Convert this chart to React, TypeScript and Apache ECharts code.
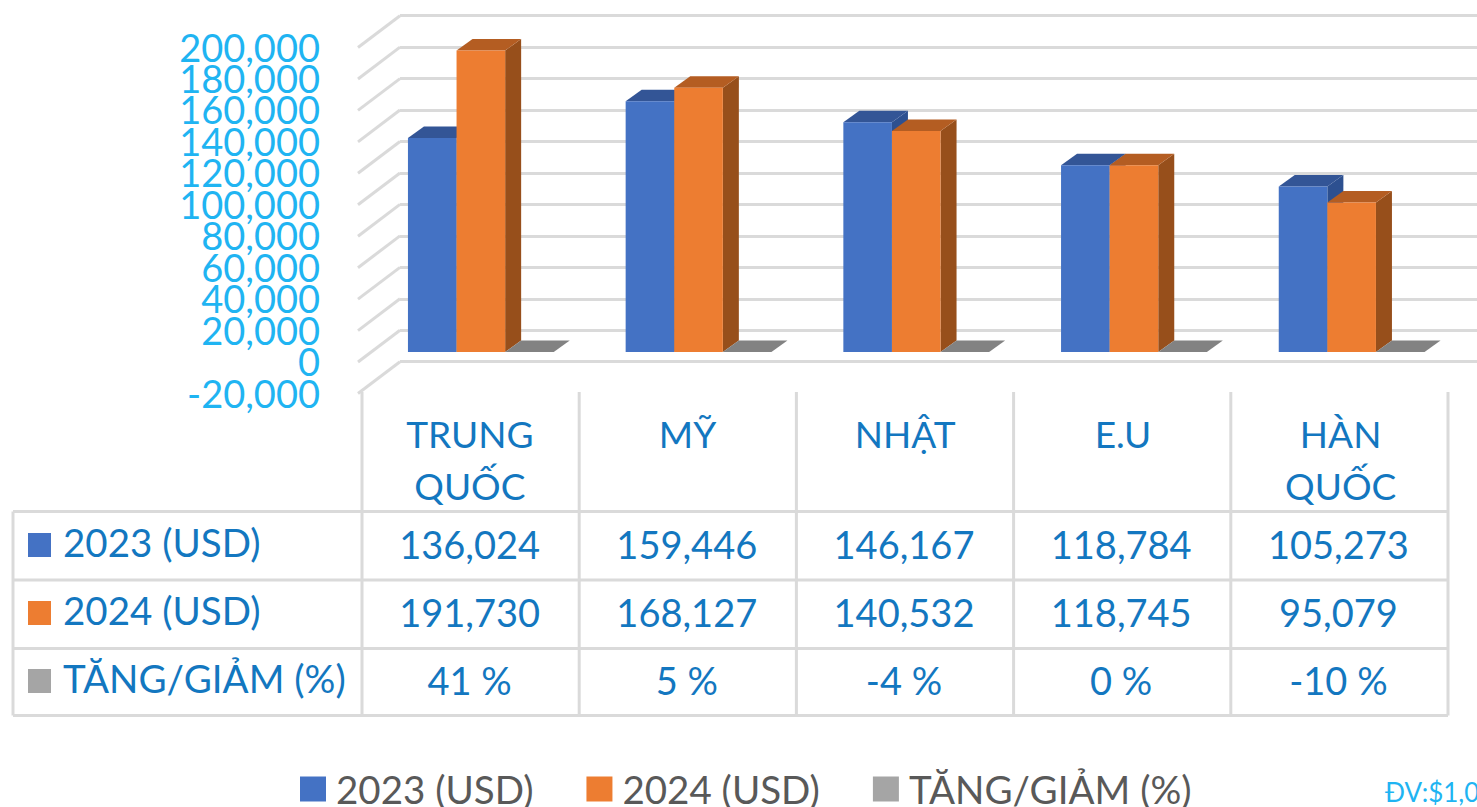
import React, { useEffect, useRef } from "react";
import * as echarts from "echarts";

const categories = ["TRUNG\nQUỐC", "MỸ", "NHẬT", "E.U", "HÀN\nQUỐC"];
const values2023 = [136024, 159446, 146167, 118784, 105273];
const values2024 = [191730, 168127, 140532, 118745, 95079];
const changePct = [41, 5, -4, 0, -10];
const seriesNames = ["2023 (USD)", "2024 (USD)", "TĂNG/GIẢM (%)"];
const gridTicks = [-20000, 0, 20000, 40000, 60000, 80000, 100000, 120000, 140000, 160000, 180000, 200000];

const FONT = "Lato";
const LINE = "#dadada";
const TABLE_TEXT = "#1377c0";
const AXIS_TEXT = "#1fb4f2";
const palette = [
  { front: "#4472c4", top: "#335596", side: "#2d5090" },
  { front: "#ed7d31", top: "#b45d22", side: "#974f1b" },
  { front: "#a5a5a5", top: "#828282", side: "#7a7a7a" },
];

const fmt = (v: number) => v.toLocaleString("en-US");

export default function App() {
  const ref = useRef<HTMLDivElement>(null);
  useEffect(() => {
    document.body.style.margin = "0";
    document.body.style.overflow = "hidden";
    const chart = echarts.init(ref.current!, null, { renderer: "svg" });

    const barW = 48.6;
    const depthX = 16;
    const depthY = 11.5;
    const bar3D = (si: number) => (params: any, api: any) => {
      const idx = api.value(0);
      const c = api.coord([idx, api.value(1)]);
      const b = api.coord([idx, 0]);
      const x0 = c[0] + 11 + (si - 1.5) * barW;
      const x1 = x0 + barW;
      const top = c[1] - 10;
      const base = b[1] - 10;
      const p = palette[si];
      return {
        type: "group",
        children: [
          { type: "polygon", shape: { points: [[x1, top], [x1 + depthX, top - depthY], [x1 + depthX, base - depthY], [x1, base]] }, style: { fill: p.side } },
          { type: "polygon", shape: { points: [[x0, top], [x0 + depthX, top - depthY], [x1 + depthX, top - depthY], [x1, top]] }, style: { fill: p.top } },
          { type: "rect", shape: { x: x0, y: top, width: barW, height: Math.max(base - top, 0) }, style: { fill: p.front } },
        ],
      };
    };
    const barSeries = (name: string, data: number[], si: number) => ({
      type: "custom",
      name,
      xAxisIndex: 0,
      yAxisIndex: 0,
      itemStyle: { color: palette[si].front },
      encode: { x: 0, y: 1 },
      data: data.map((v, i) => [i, v]),
      renderItem: bar3D(si),
      z: 5 + si,
    });

    const colLeft = 362;
    const colW = 217.2;
    const rowY = [511.5, 580, 648.5, 715.5];
    const tableLeft = 13;
    const tableRight = 1448;
    const hLine = (y: number, x1: number, x2: number) => ({
      type: "line", shape: { x1, y1: y, x2, y2: y }, style: { stroke: LINE, lineWidth: 3 }, z: 2,
    });
    const vLine = (x: number, y1: number, y2: number) => ({
      type: "line", shape: { x1: x, y1, x2: x, y2 }, style: { stroke: LINE, lineWidth: 3 }, z: 2,
    });
    const tableRows = [values2023.map(fmt), values2024.map(fmt), changePct.map((v) => `${v} %`)];
    const graphics: any[] = [];
    rowY.forEach((y) => graphics.push(hLine(y, tableLeft, tableRight)));
    graphics.push(vLine(tableLeft, rowY[0], rowY[3]));
    for (let i = 0; i <= 5; i++) {
      graphics.push(vLine(colLeft + i * colW, 392, rowY[3]));
    }
    seriesNames.forEach((name, r) => {
      const cy = [545, 613, 681][r];
      graphics.push({ type: "rect", shape: { x: 28, y: cy - 12, width: 23, height: 24 }, style: { fill: palette[r].front }, z: 3 });
      graphics.push({
        type: "text", x: 63, y: cy - 3, z: 3,
        style: { text: name, fill: TABLE_TEXT, font: `38.5px ${FONT}`, textAlign: "left", textVerticalAlign: "middle" },
      });
      tableRows[r].forEach((t, c) => {
        graphics.push({
          type: "text", x: 361 + (c + 0.5) * colW, y: cy - 1, z: 3,
          style: { text: t, fill: TABLE_TEXT, font: `38px ${FONT}`, textAlign: "center", textVerticalAlign: "middle" },
        });
      });
    });
    graphics.push({
      type: "text", x: 1385, y: 792, z: 3,
      style: { text: "ĐV:$1,000", fill: AXIS_TEXT, font: `26px ${FONT}`, textAlign: "left", textVerticalAlign: "middle" },
    });

    chart.setOption({
      animation: false,
      backgroundColor: "#ffffff",
      textStyle: { fontFamily: FONT },
      grid: [
        { left: 361, top: 47.5, width: 1088.5, height: 346 },
        { left: 400, top: 15.7, width: 1077, height: 346 },
      ],
      xAxis: [
        {
          type: "category", gridIndex: 0, data: categories,
          axisLine: { show: false }, axisTick: { show: false },
          axisLabel: { interval: 0, margin: 13.5, fontSize: 37, lineHeight: 52, color: TABLE_TEXT, fontFamily: FONT, verticalAlign: "top" },
          position: "bottom",
        },
        { type: "category", gridIndex: 1, data: categories, show: false },
      ],
      yAxis: [
        {
          type: "value", gridIndex: 0, min: -20000, max: 200000, interval: 20000,
          axisLine: { show: false }, axisTick: { show: false }, splitLine: { show: false },
          axisLabel: { show: false },
        },
        {
          type: "value", gridIndex: 1, min: -20000, max: 200000, interval: 20000,
          axisLine: { show: false }, axisTick: { show: false }, axisLabel: { show: false },
          splitLine: { show: true, showMinLine: true, showMaxLine: true, lineStyle: { color: LINE, width: 3 } },
        },
      ],
      legend: {
        left: 300, top: 769, padding: 0, itemWidth: 26, itemHeight: 25, itemGap: 53, align: "left",
        icon: "rect",
        data: seriesNames,
        textStyle: { fontSize: 38.5, lineHeight: 36, color: "#595959", fontFamily: FONT, padding: [0, 0, 4, 5] },
      },
      series: [
        {
          type: "custom", name: "walls", xAxisIndex: 0, yAxisIndex: 0, silent: true, z: 1,
          data: gridTicks.map((v) => [0, v]),
          encode: { x: 0, y: 1 },
          renderItem: (params: any, api: any) => {
            const v = api.value(1);
            const y = api.coord([0, v])[1];
            const x = params.coordSys.x;
            return {
              type: "group",
              children: [
                { type: "line", shape: { x1: x - 3, y1: y, x2: x + 39, y2: y - 31.8 }, style: { stroke: LINE, lineWidth: 3 } },
                {
                  type: "text", x: x - 41, y: y - 1,
                  style: { text: fmt(v), fill: AXIS_TEXT, font: `38px ${FONT}`, textAlign: "right", textVerticalAlign: "middle" },
                },
              ],
            };
          },
        },
        barSeries(seriesNames[0], values2023, 0),
        barSeries(seriesNames[1], values2024, 1),
        barSeries(seriesNames[2], changePct, 2),
      ],
      graphic: graphics,
    });
    return () => chart.dispose();
  }, []);
  return <div ref={ref} style={{ width: 1477, height: 807 }} />;
}
